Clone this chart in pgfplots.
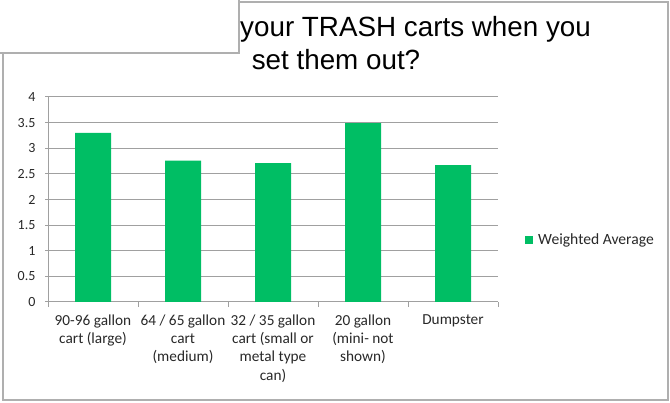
\documentclass[border=0pt]{standalone}
\usepackage{fontspec}
\setmainfont{Carlito}
\newfontfamily\arial{Liberation Sans}
\usepackage{pgfplots}
\pgfplotsset{compat=1.18}

\definecolor{bargreen}{RGB}{0,190,100}
\definecolor{gridgray}{RGB}{160,160,160}
\definecolor{framegray}{RGB}{175,175,175}
\definecolor{txt}{RGB}{40,40,40}

\begin{document}
\begin{tikzpicture}
\path[use as bounding box] (0pt,0pt) rectangle (670pt,-403pt);

% outer frame and the box that hides the start of the title
\draw[framegray, line width=1.3pt] (239pt,-2pt) -- (668pt,-2pt) -- (668pt,-400pt) -- (3pt,-400pt) -- (3pt,-53pt);
\draw[framegray, line width=1.3pt] (0pt,-53pt) -- (239pt,-53pt) -- (239pt,0pt);

% title (visible part)
\node[anchor=base west, inner sep=0pt, font=\arial\fontsize{27.8}{33}\selectfont] at (240pt,-37pt) {your TRASH carts when you};
\node[anchor=base, inner sep=0pt, font=\arial\fontsize{27.8}{33}\selectfont] at (336pt,-70pt) {set them out?};

\begin{axis}[
    at={(48pt,-302pt)}, anchor=south west,
    scale only axis,
    width=450pt, height=205pt,
    ybar, bar width=36pt,
    xmin=-0.5, xmax=4.5,
    ymin=0, ymax=4,
    axis x line*=bottom, axis y line*=left,
    axis line style={draw=gridgray, line width=1pt},
    ymajorgrids=true,
    grid style={draw=gridgray, line width=1pt},
    tick align=outside,
    major tick length=3pt,
    ytick={0,0.5,1,1.5,2,2.5,3,3.5,4},
    yticklabels={0,0.5,1,1.5,2,2.5,3,3.5,4},
    ytick style={draw=gridgray, line width=1pt},
    y tick label style={font=\fontsize{14}{16}\selectfont, text=txt, xshift=-6pt},
    xtick={0,1,2,3,4},
    xticklabels={90-96 gallon\\cart (large), 64 / 65 gallon\\cart\\(medium), 32 / 35 gallon\\cart (small or\\metal type\\can), 20 gallon\\(mini- not\\shown), Dumpster},
    xtick style={draw=none},
    x tick label style={font=\fontsize{15.3}{18.3}\selectfont, text=txt, align=center, anchor=north, yshift=-6pt},
    extra x ticks={-0.5,0.5,1.5,2.5,3.5,4.5},
    extra x tick labels={},
    extra x tick style={major tick length=5pt, xtick style={draw=gridgray, line width=1pt}},
    legend style={at={(1.06,0.302)}, anchor=west, draw=none, fill=none, inner sep=0pt,
        font=\fontsize{15.6}{18}\selectfont, text=txt},
    legend cell align=left,
]
\addplot[fill=bargreen, draw=none,
    legend image code/.code={\fill[bargreen] (0pt,-4pt) rectangle (8pt,4pt); \path (11pt,0pt);}]
    coordinates {(0,3.30) (1,2.76) (2,2.71) (3,3.49) (4,2.67)};
\addlegendentry{Weighted Average}
\end{axis}
\end{tikzpicture}
\end{document}
